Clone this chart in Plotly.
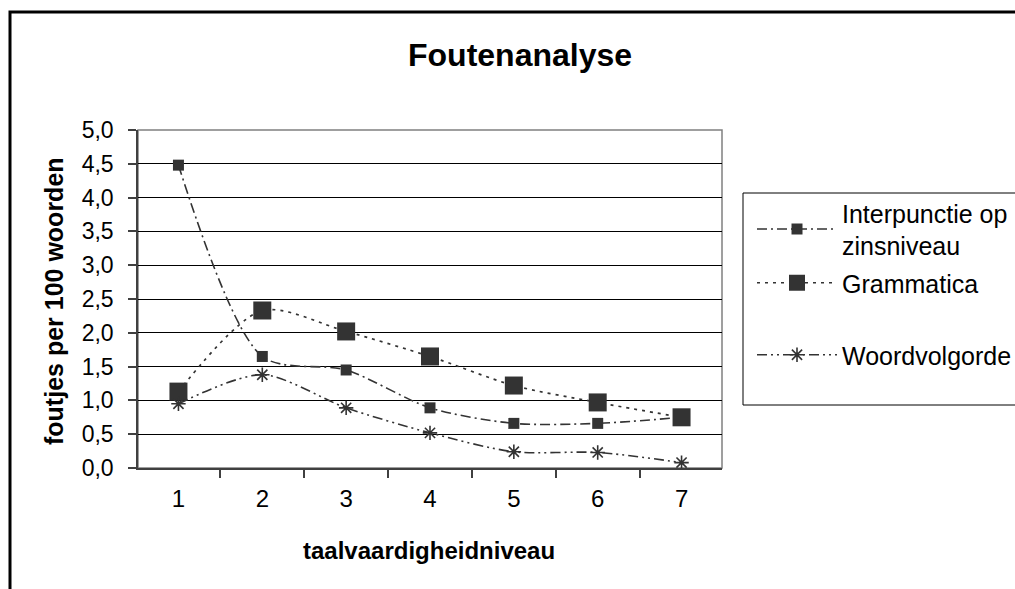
import plotly.graph_objects as go

# Taalvaardigheidsniveaus (categorie-as)
niveaus = ["1", "2", "3", "4", "5", "6", "7"]

# Foutjes per 100 woorden per categorie
interpunctie = [4.48, 1.65, 1.45, 0.89, 0.66, 0.66, 0.75]
grammatica = [1.13, 2.33, 2.02, 1.65, 1.22, 0.97, 0.75]
woordvolgorde = [0.95, 1.38, 0.89, 0.52, 0.24, 0.23, 0.08]

y_ticks = [0, 0.5, 1, 1.5, 2, 2.5, 3, 3.5, 4, 4.5, 5]

W, H = 1015, 589
ML, MR, MT, MB = 138, 293, 130, 121
PW, PH = W - ML - MR, H - MT - MB


def px_x(px):
    return (px - ML) / PW


def px_y(py):
    return (H - MB - py) / PH


def cx(px):
    return px / W


def cy(py):
    return 1 - py / H


FONT = "Arial, 'Liberation Sans', sans-serif"
INK = "#333333"

fig = go.Figure()

fig.add_trace(go.Scatter(
    x=niveaus, y=interpunctie, name="Interpunctie op<br>zinsniveau",
    mode="lines+markers", line=dict(color=INK, width=1.6, dash="10px,4px,2px,4px", shape="spline", smoothing=0.8),
    marker=dict(symbol="square", size=11, color=INK), legend="legend",
))
fig.add_trace(go.Scatter(
    x=niveaus, y=grammatica, name="Grammatica",
    mode="lines+markers", line=dict(color=INK, width=1.7, dash="3px,5px", shape="spline", smoothing=0.8),
    marker=dict(symbol="square", size=18, color=INK), legend="legend2",
))
fig.add_trace(go.Scatter(
    x=niveaus, y=woordvolgorde, name="Woordvolgorde",
    mode="lines+markers", line=dict(color=INK, width=1.6, dash="10px,4px,2px,4px,2px,4px", shape="spline", smoothing=0.8),
    marker=dict(symbol="asterisk-open", size=12, color=INK, line=dict(color=INK, width=1.6)), legend="legend3",
))

legend_common = dict(
    font=dict(family=FONT, size=25, color="#000000"),
    bgcolor="rgba(0,0,0,0)", borderwidth=0, xanchor="left", yanchor="middle",
    itemwidth=80, x=cx(752), xref="container", yref="container",
)

fig.update_layout(
    width=W, height=H,
    margin=dict(l=ML, r=MR, t=MT, b=MB, pad=0, autoexpand=False),
    paper_bgcolor="white", plot_bgcolor="white",
    separators=", ",
    font=dict(family=FONT, size=22, color="#000000"),
    showlegend=True,
    legend=dict(legend_common, y=cy(229)),
    legend2=dict(legend_common, y=cy(283)),
    legend3=dict(legend_common, y=cy(355)),
    xaxis=dict(
        type="category", tickson="boundaries", ticks="outside", ticklen=8,
        tickcolor="#404040", tickwidth=1.5, showgrid=False,
        showline=True, linecolor="#404040", linewidth=1.5,
        tickfont=dict(family=FONT, size=24), ticklabelstandoff=8,
    ),
    yaxis=dict(
        range=[0, 5], tickvals=y_ticks, tickformat=".1f",
        ticks="outside", ticklen=8, tickcolor="#404040", tickwidth=1.5,
        showgrid=True, gridcolor="#000000", gridwidth=1,
        showline=True, linecolor="#404040", linewidth=1.5, zeroline=False,
        tickfont=dict(family=FONT, size=23), ticklabelstandoff=10,
    ),
    shapes=[
        # kader rond het plotgebied
        dict(type="rect", xref="paper", yref="paper", x0=0, y0=0, x1=1, y1=1,
             line=dict(color="#808080", width=1.5), layer="below"),
        # kader rond de legenda
        dict(type="rect", xref="paper", yref="paper",
             x0=px_x(743), y0=px_y(405), x1=px_x(1040), y1=px_y(193),
             line=dict(color="#000000", width=1)),
        # kader rond de hele grafiek
        dict(type="rect", xref="paper", yref="paper",
             x0=px_x(10), y0=px_y(620), x1=px_x(1040), y1=px_y(12),
             line=dict(color="#000000", width=3)),
    ],
    annotations=[
        dict(text="<b>Foutenanalyse</b>", xref="paper", yref="paper",
             x=px_x(520), y=px_y(55), showarrow=False, xanchor="center", yanchor="middle",
             font=dict(family=FONT, size=32)),
        dict(text="<b>taalvaardigheidniveau</b>", xref="paper", yref="paper",
             x=px_x(429), y=px_y(550), showarrow=False, xanchor="center", yanchor="middle",
             font=dict(family=FONT, size=24)),
        dict(text="<b>foutjes per 100 woorden</b>", xref="paper", yref="paper",
             x=px_x(54), y=px_y(301), showarrow=False, xanchor="center", yanchor="middle",
             textangle=-90, font=dict(family=FONT, size=25)),
    ],
)

fig.write_html("out.html")
